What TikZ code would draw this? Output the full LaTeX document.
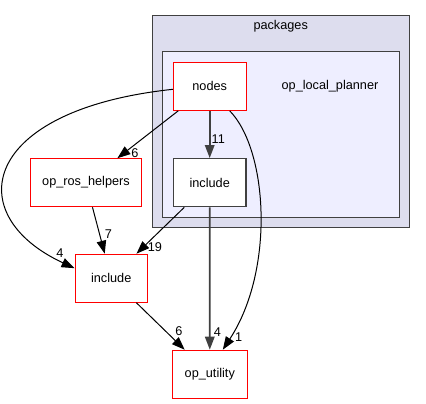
\documentclass[tikz,border=0pt]{standalone}
\usepackage{fontspec}
\setmainfont{Liberation Sans}
\usetikzlibrary{arrows.meta}
\definecolor{pkgfill}{HTML}{DDDDEE}
\definecolor{plannerfill}{HTML}{EEEEFF}
\definecolor{grey25}{HTML}{404040}
\begin{document}
\begin{tikzpicture}[x=1pt,y=-1pt,
  every node/.style={font=\fontsize{12.7}{15}\selectfont},
  dirbox/.style={draw=red,fill=white,line width=1pt,minimum height=48pt,inner sep=0pt},
  edge/.style={draw,line width=1pt,-{Triangle[length=13pt,width=9.5pt]}},
  thickedge/.style={edge,draw=grey25,fill=grey25,line width=1.7pt}]
\useasboundingbox (0,0) rectangle (426,404);
% clusters
\path[draw=grey25,fill=pkgfill,line width=1.2pt] (152.7,15.7) rectangle (409.5,227.5);
\node (pkg) at (280.7,26.7) {packages};
\path[draw=grey25,fill=plannerfill,line width=1.2pt] (162.7,51.7) rectangle (399.3,217.3);
\node (planner) at (330,86.3) {op\_local\_planner};
% directories
\node[dirbox,minimum width=72.7pt] (nodes) at (209.7,86.3) {nodes};
\node[dirbox,draw=grey25,line width=1.3pt,minimum width=72.7pt] (include1) at (209.7,182.7) {include};
\node[dirbox,minimum width=111.4pt] (ros) at (86,182.7) {op\_ros\_helpers};
\node[dirbox,minimum width=72.3pt] (include2) at (111.2,278.2) {include};
\node[dirbox,minimum width=75pt] (util) at (209.8,374.2) {op\_utility};
% dependencies
\path[edge] (nodes) -- (ros) node (l1) at (135,152.7) {6};
\path[thickedge] (nodes) -- (include1) node[text=black] (l2) at (218.3,139.3) {11};
\path[edge] ([yshift=-3pt]nodes.west) .. controls (-20,110) and (-40,215) .. ([yshift=10pt]include2.west) node (l3) at (60,253.3) {4};
\path[edge] ([xshift=20pt]nodes.south) .. controls (268,150) and (275,270) .. ([xshift=13pt]util.north) node (l4) at (238.7,336.7) {1};
\path[edge] (ros) -- (include2) node (l5) at (108.3,234) {7};
\path[edge] (include1) -- (include2) node (l6) at (155,247.3) {19};
\path[thickedge] (include1) -- (util) node[text=black] (l7) at (217.3,332.3) {4};
\path[edge] (include2) -- (util) node (l8) at (179,330.7) {6};
\end{tikzpicture}
\end{document}
